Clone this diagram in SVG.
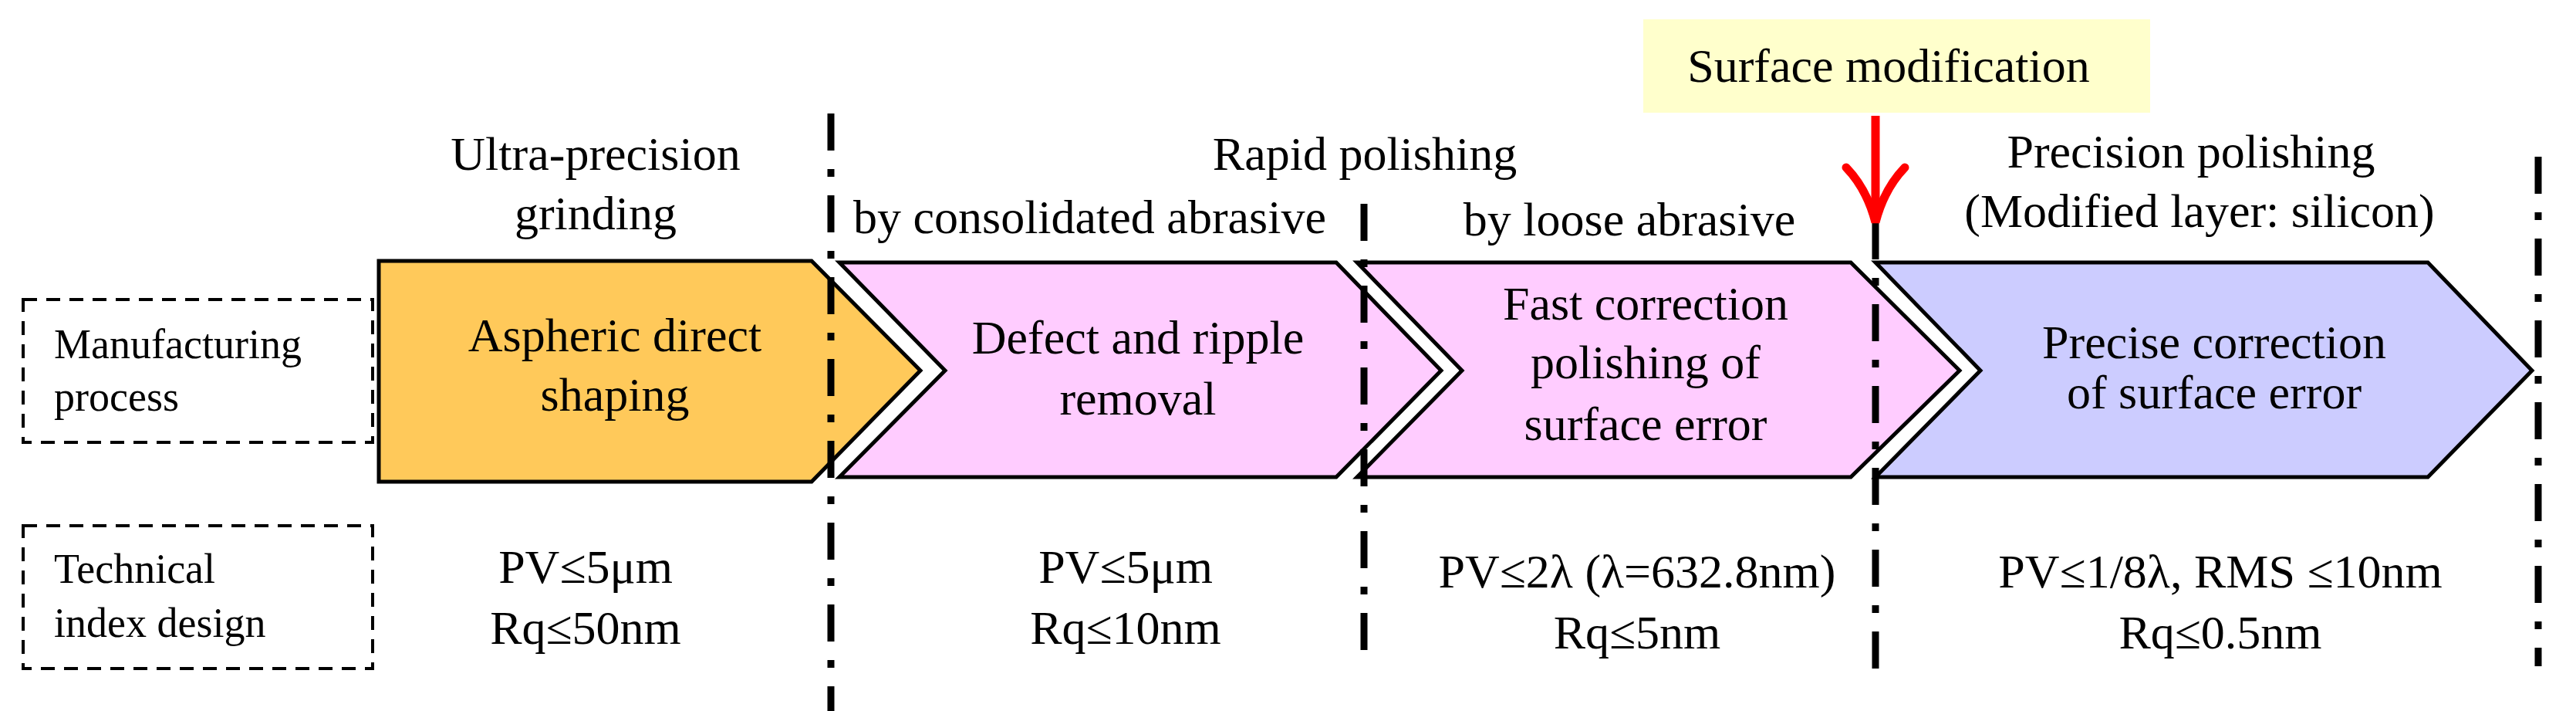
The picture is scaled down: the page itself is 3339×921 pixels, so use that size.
<svg xmlns="http://www.w3.org/2000/svg" width="3339" height="921" viewBox="0 0 3339 921">
<style>
text{font-family:"Liberation Serif","Times New Roman",serif;fill:#000;text-anchor:middle;font-size:62px}
.lab{text-anchor:start;font-size:54px}
.chev{stroke:#000;stroke-width:5;stroke-linejoin:miter}
.dd{stroke:#000;stroke-width:9;fill:none;stroke-dasharray:48 24 10 24}
.box{fill:none;stroke:#000;stroke-width:4;stroke-dasharray:18 12}
</style>
<rect width="3339" height="921" fill="#fff"/>
<g id="label-manufacturing"><rect class="box" x="30" y="388" width="453" height="185"/><text class="lab" x="70" y="464">Manufacturing</text><text class="lab" x="70" y="532">process</text></g>
<g id="label-technical"><rect class="box" x="30" y="681" width="453" height="185"/><text class="lab" x="70" y="755">Technical</text><text class="lab" x="70" y="825">index design</text></g>
<g id="stage1"><path class="chev" fill="#FFC95A" d="M491,338 L1052,338 L1193,480 L1052,624 L491,624 Z"/><text x="797" y="455">Aspheric direct</text><text x="797" y="532">shaping</text></g>
<g id="stage2"><path class="chev" fill="#FFCCFF" d="M1088,340 L1732,340 L1868,480 L1732,618 L1088,618 L1225,480 Z"/><text x="1475" y="458">Defect and ripple</text><text x="1475" y="537">removal</text></g>
<g id="stage3"><path class="chev" fill="#FFCCFF" d="M1759,340 L2399,340 L2540,480 L2399,618 L1759,618 L1895,480 Z"/><text x="2133" y="414">Fast correction</text><text x="2133" y="490">polishing of</text><text x="2133" y="570">surface error</text></g>
<g id="stage4"><path class="chev" fill="#CCCCFF" d="M2431,340 L3147,340 L3282,480 L3147,618 L2431,618 L2567,480 Z"/><text x="2870" y="464">Precise correction</text><text x="2870" y="529">of surface error</text></g>
<g id="dividers">
<line class="dd" x1="1077" y1="147" x2="1077" y2="921"/>
<line class="dd" x1="1768" y1="264" x2="1768" y2="849"/>
<line class="dd" x1="2431" y1="288" x2="2431" y2="881"/>
<line class="dd" x1="3290" y1="203" x2="3290" y2="863"/>
</g>
<g id="headers">
<text x="772" y="220">Ultra-precision</text><text x="772" y="297">grinding</text>
<text x="1769" y="220">Rapid polishing</text>
<text x="1106" y="302" style="text-anchor:start">by consolidated abrasive</text>
<text x="2112" y="305">by loose abrasive</text>
<text x="2840" y="217">Precision polishing</text>
<text x="2851" y="294">(Modified layer: silicon)</text>
</g>
<g id="surface-mod"><rect x="2130" y="25" width="657" height="121" fill="#FFFFCC"/><text x="2448" y="106">Surface modification</text></g>
<g id="connectors"><path d="M2431,150 L2431,280" stroke="#f00" stroke-width="11" fill="none"/><path d="M2393,217 Q2420,245 2431,288 Q2442,245 2469,217" stroke="#f00" stroke-width="11" fill="none" stroke-linecap="round"/></g>
<g id="indices">
<text x="759" y="755">PV≤5μm</text><text x="759" y="834">Rq≤50nm</text>
<text x="1459" y="755">PV≤5μm</text><text x="1459" y="834">Rq≤10nm</text>
<text x="2122" y="761">PV≤2λ (λ=632.8nm)</text><text x="2122" y="840">Rq≤5nm</text>
<text x="2878" y="761">PV≤1/8λ, RMS ≤10nm</text><text x="2878" y="840">Rq≤0.5nm</text>
</g>
</svg>
